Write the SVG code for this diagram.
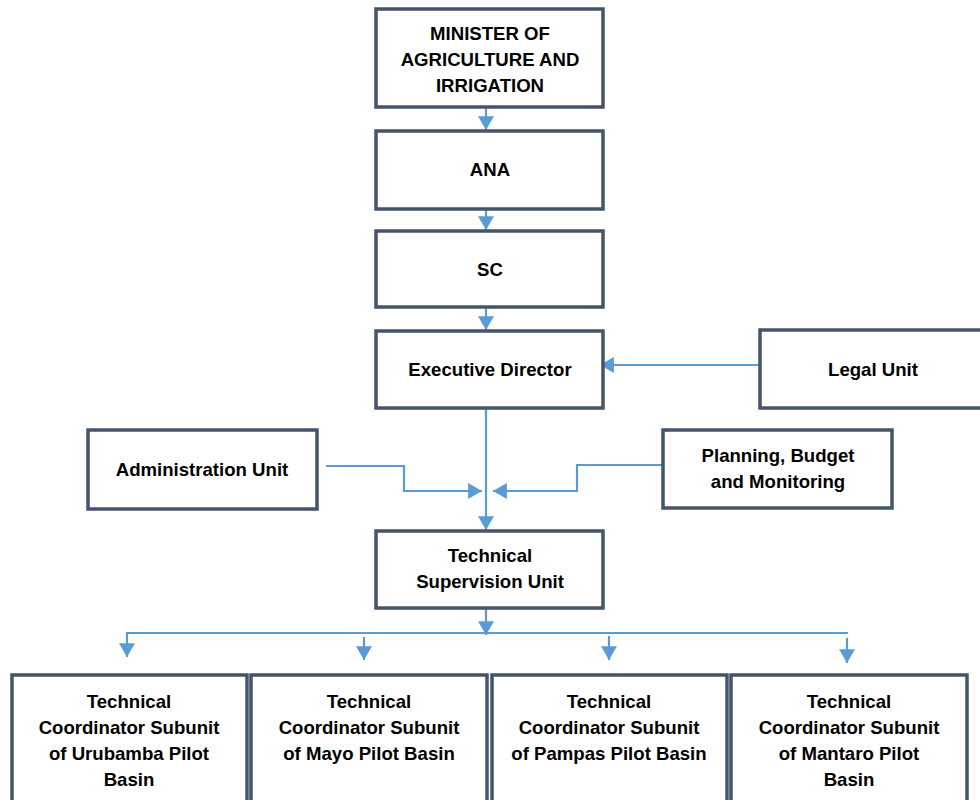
<svg xmlns="http://www.w3.org/2000/svg" width="980" height="800" viewBox="0 0 980 800">
<defs>
<style>
.box{fill:#fff;stroke:#44546A;stroke-width:3.5}
.t{font-family:"Liberation Sans",Arial,sans-serif;font-weight:bold;font-size:18.6px;fill:#000;text-anchor:middle}
.c{fill:none;stroke:#5B9BD5;stroke-width:2.2}
</style>
<marker id="ah" markerUnits="userSpaceOnUse" markerWidth="14" markerHeight="16" viewBox="0 0 13 15" refX="13" refY="7.5" orient="auto">
<path d="M0,0 L13,7.5 L0,15 Z" fill="#5B9BD5"/>
</marker>
</defs>
<rect width="980" height="800" fill="#fff"/>
<g id="connectors">
<line class="c" x1="486" y1="107" x2="486" y2="130" marker-end="url(#ah)"/>
<line class="c" x1="486" y1="209" x2="486" y2="230" marker-end="url(#ah)"/>
<line class="c" x1="486" y1="307" x2="486" y2="330" marker-end="url(#ah)"/>
<line class="c" x1="760" y1="365" x2="600" y2="365" marker-end="url(#ah)"/>
<line class="c" x1="486" y1="405" x2="486" y2="530" marker-end="url(#ah)"/>
<polyline class="c" points="326,466 404,466 404,491 482,491" marker-end="url(#ah)"/>
<polyline class="c" points="663,465 577,465 577,491 493,491" marker-end="url(#ah)"/>
<line class="c" x1="486" y1="608" x2="486" y2="635" marker-end="url(#ah)"/>
<polyline class="c" points="848,633 127,633 127,657" marker-end="url(#ah)"/>
<line class="c" x1="364" y1="637" x2="364" y2="660" marker-end="url(#ah)"/>
<line class="c" x1="609" y1="636" x2="609" y2="660" marker-end="url(#ah)"/>
<line class="c" x1="847" y1="638" x2="847" y2="663" marker-end="url(#ah)"/>
</g>
<g id="minister"><rect class="box" x="376" y="9" width="227" height="98"/>
<text class="t" x="490" y="40">MINISTER OF</text><text class="t" x="490" y="66">AGRICULTURE AND</text><text class="t" x="490" y="92">IRRIGATION</text></g>
<g id="ana"><rect class="box" x="376" y="131" width="227" height="78"/><text class="t" x="490" y="176">ANA</text></g>
<g id="sc"><rect class="box" x="376" y="231" width="227" height="76"/><text class="t" x="490" y="276">SC</text></g>
<g id="exec"><rect class="box" x="376" y="331" width="227" height="77"/><text class="t" x="490" y="376">Executive Director</text></g>
<g id="legal"><rect class="box" x="760" y="330" width="226" height="78"/><text class="t" x="873" y="376">Legal Unit</text></g>
<g id="admin"><rect class="box" x="88" y="430" width="229" height="79"/><text class="t" x="202" y="476">Administration Unit</text></g>
<g id="planning"><rect class="box" x="663" y="430" width="229" height="78"/><text class="t" x="778" y="462">Planning, Budget</text><text class="t" x="778" y="488">and Monitoring</text></g>
<g id="tsu"><rect class="box" x="376" y="531" width="227" height="77"/><text class="t" x="490" y="562">Technical</text><text class="t" x="490" y="588">Supervision Unit</text></g>
<g id="urubamba"><rect class="box" x="12" y="675" width="235" height="128"/><text class="t" x="129" y="708">Technical</text><text class="t" x="129" y="734">Coordinator Subunit</text><text class="t" x="129" y="760">of Urubamba Pilot</text><text class="t" x="129" y="786">Basin</text></g>
<g id="mayo"><rect class="box" x="251" y="675" width="236" height="128"/><text class="t" x="369" y="708">Technical</text><text class="t" x="369" y="734">Coordinator Subunit</text><text class="t" x="369" y="760">of Mayo Pilot Basin</text></g>
<g id="pampas"><rect class="box" x="492" y="675" width="235" height="128"/><text class="t" x="609" y="708">Technical</text><text class="t" x="609" y="734">Coordinator Subunit</text><text class="t" x="609" y="760">of Pampas Pilot Basin</text></g>
<g id="mantaro"><rect class="box" x="731" y="675" width="236" height="128"/><text class="t" x="849" y="708">Technical</text><text class="t" x="849" y="734">Coordinator Subunit</text><text class="t" x="849" y="760">of Mantaro Pilot</text><text class="t" x="849" y="786">Basin</text></g>
</svg>
